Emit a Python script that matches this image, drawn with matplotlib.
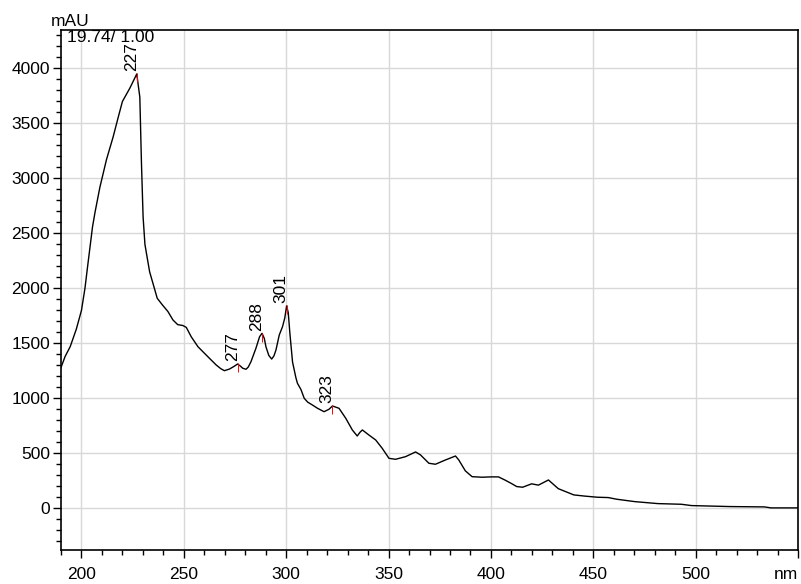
import matplotlib
matplotlib.use("Agg")
import matplotlib.pyplot as plt
from matplotlib.ticker import MultipleLocator, FixedLocator

plt.rcParams['font.family'] = ['Liberation Sans', 'DejaVu Sans']

wavelength = [190, 192, 194.5, 197.5, 200, 201.7, 203, 204, 205.4, 206.6, 209, 212.2,
              215.5, 218, 220, 223.6, 227, 228.5, 229.3, 230.1, 231, 232, 233.3, 235,
              237, 239.5, 242.2, 244.7, 247, 249.5, 251.2, 253.6, 256.9, 259.3, 262.5,
              265.8, 268, 269.8, 272.3, 274.5, 276.3, 277.8, 278.8, 280.4, 281.5,
              282.8, 285.2, 287, 288.2, 289.3, 290.1, 291.5, 292.9, 294, 295, 296.6,
              298.2, 299.3, 300.2, 301, 301.8, 303.1, 304.7, 305.5, 307.2, 308.8,
              310.5, 312.8, 315.3, 318.5, 320.9, 322.6, 325.8, 329.1, 332.3, 334.7,
              336, 337.2, 340.4, 343.7, 346.9, 350.2, 353.4, 358.3, 363.2, 365.6,
              369.7, 372.9, 377.8, 382.7, 384.3, 387.5, 390.8, 395.6, 400, 403.7, 407,
              410, 412.6, 415.5, 419.9, 423.2, 428.1, 432.9, 440.5, 446, 452, 457.3,
              461.4, 470.3, 481.6, 493, 498, 517, 533.6, 536.8, 550]
absorbance = [1280, 1380, 1470, 1630, 1800, 2000, 2200, 2350, 2560, 2690, 2920, 3170,
              3380, 3560, 3700, 3820, 3950, 3740, 3140, 2650, 2400, 2290, 2150, 2040,
              1910, 1850, 1790, 1712, 1670, 1662, 1645, 1560, 1469, 1424, 1364,
              1303, 1270, 1251, 1266, 1290, 1312, 1290, 1273, 1264, 1285,
              1333, 1454, 1560, 1591, 1545, 1469, 1390, 1357, 1385, 1439, 1575,
              1651, 1730, 1840, 1780, 1591, 1330, 1190, 1136, 1080, 1000,
              965, 939, 909, 878, 900, 930, 909, 818, 712, 657,
              690, 712, 666, 621, 545, 454, 445, 469, 512, 485,
              409, 400, 439, 475, 439, 340, 287, 282, 285, 285, 255,
              225, 197, 191, 222, 210, 257, 178, 121, 110, 100, 97,
              82, 60, 42, 36, 24, 15, 12, 3, 3]

peak_x = [227.1, 276.3, 288.2, 300.2, 322.6]
peak_y = [3950, 1312, 1591, 1840, 930]
peak_labels = ["227", "277", "288", "301", "323"]

x_ticks = [200, 250, 300, 350, 400, 450, 500, 550]
x_ticklabels = ["200", "250", "300", "350", "400", "450", "500", "nm"]
y_ticks = [0, 500, 1000, 1500, 2000, 2500, 3000, 3500, 4000]

fig = plt.figure(figsize=(8.01, 5.84), dpi=100)
ax = fig.add_axes([61/801, 34/584, 737/801, 520/584])

ax.plot(wavelength, absorbance, color='black', lw=1.0)

for px, py, lab in zip(peak_x, peak_y, peak_labels):
    ax.vlines(px, py - 75, py + 5, color='red', lw=0.7, zorder=3)
    ax.annotate(lab, (px, py), xytext=(1.5, 2), textcoords='offset points',
                rotation=90, ha='right', va='bottom', fontsize=12.5)

ax.set_xlim(190, 550)
ax.set_ylim(-380, 4350)

ax.xaxis.set_major_locator(FixedLocator(x_ticks))
ax.set_xticklabels(x_ticklabels)
ax.get_xticklabels()[-1].set_horizontalalignment('right')
ax.xaxis.set_minor_locator(MultipleLocator(10))
ax.yaxis.set_major_locator(FixedLocator(y_ticks))
ax.yaxis.set_minor_locator(MultipleLocator(100))

ax.tick_params(axis='both', which='major', length=6, width=1, labelsize=12.5, direction='out', pad=2)
ax.tick_params(axis='both', which='minor', length=3.5, width=1, direction='out')
ax.tick_params(axis='x', pad=6)

ax.grid(True, which='major', color='#d8d8d8', lw=1)
ax.set_axisbelow(True)
for s in ax.spines.values():
    s.set_linewidth(1.2)
    s.set_color('black')

fig.text(70/801, 1 - 21/584, "mAU", ha='center', va='center', fontsize=12.5)
ax.text(0.008, 1.0, "19.74/ 1.00", transform=ax.transAxes, ha='left', va='top', fontsize=12.5)

fig.savefig("out.png", dpi=100)
